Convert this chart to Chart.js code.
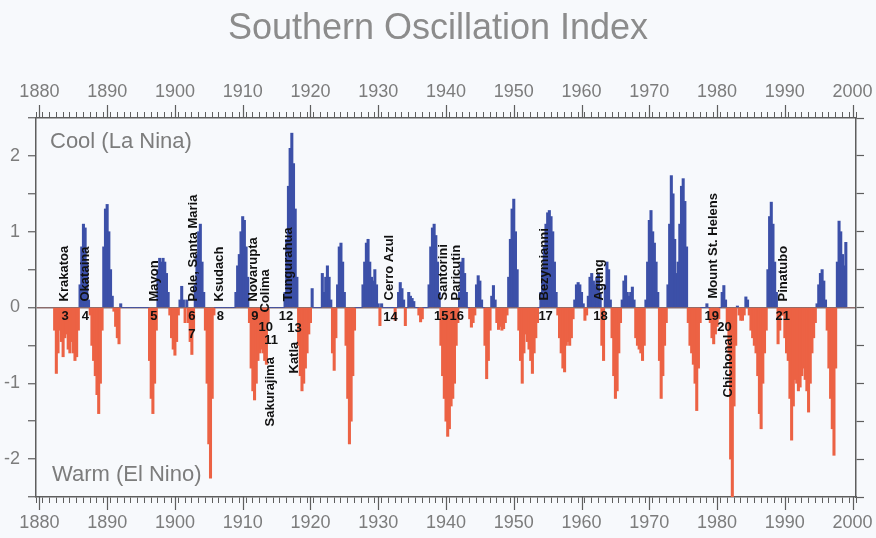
<!DOCTYPE html>
<html>
<head>
<meta charset="utf-8">
<title>Southern Oscillation Index</title>
<script src="https://cdn.jsdelivr.net/npm/chart.js@4.4.1/dist/chart.umd.min.js"></script>
<style>
  html, body { margin: 0; padding: 0; background: #f7f9fc; }
  #wrap { width: 876px; height: 538px; }
</style>
</head>
<body>
<div id="wrap"><canvas id="soi" width="876" height="538"></canvas></div>
<script>
// quarterly SOI values, one array per decade, starting Jan of the decade
const soi1880s = [
  null, null, null, null,   null, null, null, null,
  null, -0.3, -0.87, -0.6,  -0.3, -0.45, -0.65, -0.4,
  -0.35, -0.55, -0.6, -0.45, -0.6, -0.7, -0.65, -0.3,
  0.3, 0.8, 1.1, 1.05,      0.6, 0.1, -0.1, -0.5,
  -0.7, -0.9, -1.15, -1.4,  -1.0, -0.3, 0.8, 1.3
];
const soi1890s = [
  1.36, 1.0, 0.5, 0.15,     -0.05, -0.25, -0.4, -0.48,
  0.05, 0, 0, 0,            0, 0, 0, 0,
  0, 0, 0, 0,               0, 0, 0, 0,
  0, -0.7, -1.2, -1.4,      -1.0, -0.3, 0.5, 0.65,
  0.6, 0.65, 0.6, 0.45,     0.2, -0.1, -0.4, -0.55
];
const soi1900s = [
  -0.63, -0.45, -0.1, 0.1,  0.28, 0.1, -0.2, 0.1,
  -0.2, -0.45, -0.62, -0.3, 0.3, 0.7, 1.0, 1.1,
  0.6, 0.2, -0.3, -1.0,     -1.8, -2.25, -1.2, -0.1,
  0, 0, 0, 0,               0, 0, 0, 0,
  0, 0, 0, 0,               0.2, 0.55, 0.7, 1.0
];
const soi1910s = [
  1.2, 1.15, 0.8, 0.4,      -0.2, -0.8, -1.1, -1.22,
  -1.0, -0.7, -0.6, -0.55,  -0.6, -0.7, -0.75, -0.2,
  0, 0, 0, 0,               0, 0, 0, 0,
  0, 0.2, 0.9, 1.6,         2.1, 2.3, 1.9, 1.3,
  0.4, -0.5, -0.9, -1.1,    -1.0, -0.8, -0.6, -0.35
];
const soi1920s = [
  -0.2, 0.25, 0, 0,         0, 0, 0, 0.45,
  0.2, 0.4, 0.55, 0.4,      0.1, -0.6, -0.83, -0.4,
  0.3, 0.8, 0.85, 0.6,      0.2, -0.5, -1.2, -1.8,
  -1.5, -0.9, -0.3, 0,      0, 0, 0, 0.3,
  0.6, 0.85, 0.9, 0.6,      0.4, 0.35, 0.5, 0.3
];
const soi1930s = [
  0.05, -0.24, 0.05, 0,     0, 0, 0, 0,
  0, 0, -0.17, 0,           0.2, 0.33, 0.25, 0.1,
  -0.24, 0, 0.2, 0.15,      0.12, 0.08, 0, 0,
  -0.1, -0.19, -0.15, 0,    0, 0, 0.3, 0.8,
  1.05, 1.1, 0.95, 0.6,     0.2, -0.5, -0.9, -1.2
];
const soi1940s = [
  -1.5, -1.7, -1.6, -1.3,   -1.2, -1.0, -0.5, -0.2,
  0.2, 0.6, 0.65, 0.45,     0.2, 0, -0.15, -0.26,
  -0.2, -0.1, 0.3, 0.42,    0.35, 0.1, 0, -0.5,
  -0.94, -0.7, -0.3, 0.15,  0.29, 0.1, -0.2, -0.29,
  -0.25, -0.3, -0.28, -0.2, -0.1, 0.4, 0.9, 1.3
];
const soi1950s = [
  1.43, 1.0, 0.5, -0.3,     -0.7, -1.0, -0.6, -0.35,
  -0.45, -0.55, -0.7, -0.87, -0.6, -0.4, -0.2, 0,
  0.2, 0.5, 0.8, 1.1,       1.25, 1.28, 1.2, 1.0,
  0.6, 0.2, -0.1, -0.4,     -0.6, -0.8, -0.85, -0.5,
  -0.45, -0.5, -0.4, -0.15, 0.1, 0.3, 0.33, 0.3
];
const soi1960s = [
  0.2, 0.05, -0.17, -0.1,   0.15, 0.4, 0.45, 0.35,
  0.3, 0.4, 0.45, 0.2,      -0.5, -0.7, 0.3, 0.6,
  0.5, 0.1, -0.4, -0.9,     -1.2, -1.1, -0.6, -0.2,
  0.1, 0.35, 0.42, 0.2,     0.15, 0.2, 0.27, 0.1,
  -0.4, -0.5, -0.55, -0.6,  -0.7, -0.5, 0.1, 0.6
];
const soi1970s = [
  1.15, 1.28, 1.0, 0.85,    0.6, 0.2, -0.7, -1.2,
  -0.9, -0.5, -0.2, 0.3,    1.1, 1.74, 1.5, 0.9,
  0.45, 0.6, 1.1, 1.6,      1.7, 1.4, 0.8, -0.2,
  -0.5, -0.6, -0.75, -1.0,  -1.36, -0.8, -0.2, 0,
  0, 0, 0.05, 0,            -0.2, -0.4, -0.48, -0.35
];
const soi1980s = [
  -0.25, -0.15, 0, 0.2,     0.29, 0.1, -0.2, -0.6,
  -2.0, -2.5, -1.3, -0.5,   0.02, -0.1, -0.17, -0.17,
  -0.1, 0.14, 0.1, -0.1,    -0.3, -0.4, -0.5, -0.6,
  -0.9, -1.4, -1.6, -1.0,   -0.6, -0.3, 0.5, 1.2,
  1.39, 1.1, 0.6, 0.2,      -0.48, -0.3, -0.1, -0.1
];
const soi1990s = [
  -0.4, -0.6, -0.7, -1.2,   -1.75, -1.3, -0.95, -1.0,
  -1.1, -1.05, -0.9, -0.8,  -0.95, -1.1, -1.38, -1.0,
  -0.6, -0.4, -0.2, 0.05,   0.3, 0.45, 0.5, 0.35,
  0.1, -0.3, -0.8, -1.2,    -1.6, -1.95, -0.8, 0.6,
  1.14, 1.0, 0.7, 0.55,     0.86, null, null, null
];
const decadeStarts = [1880, 1890, 1900, 1910, 1920, 1930, 1940, 1950, 1960, 1970, 1980, 1990];
const decadeSeries = [soi1880s, soi1890s, soi1900s, soi1910s, soi1920s, soi1930s,
                      soi1940s, soi1950s, soi1960s, soi1970s, soi1980s, soi1990s];

// volcanic eruptions marked on the chart
const volcanoNames = ['Krakatoa', 'Okataina', 'Mayon', 'Pele, Santa Maria', 'Ksudach', 'Novarupta',
  'Colima', 'Sakurajima', 'Tungurahua', 'Katla', 'Cerro Azul', 'Santorini', 'Paricutin',
  'Bezymianni', 'Agung', 'Mount St. Helens', 'Chichonal', 'Pinatubo'];
const volcanoYears = [1883.66, 1886.73, 1896.98, 1902.68, 1906.63, 1911.61,
  1913.37, 1914.1, 1916.73, 1917.61, 1931.66, 1939.56, 1941.61,
  1954.56, 1962.6, 1979.5, 1981.7, 1989.76];
const eventNumbers = [3, 4, 5, 6, 7, 8, 9, 10, 11, 12, 13, 14, 15, 16, 17, 18, 19, 20, 21];
const eventYears = [1883.8, 1886.8, 1896.9, 1902.5, 1902.5, 1906.7, 1911.8, 1913.4, 1914.2,
  1916.4, 1917.65, 1931.8, 1939.3, 1941.6, 1954.7, 1962.8, 1979.2, 1981.1, 1989.7];

// label placement relative to the zero line (pixels)
const nameDy = [-6, -6, -6, -6, -6, -6, 5, 119, -6, 66, -7, -7, -7, -7, -7, -9, 90, -6];
const numberDy = [9, 9, 9, 9, 27, 9, 9, 20, 33, 9, 21, 10, 9, 9, 9, 9, 9, 20, 9];

const BLUE = 'rgb(60,80,168)';
const RED = 'rgb(236,98,68)';
const AXIS = '#5e5e5e';
const TEXT = '#7c7c7c';
const ZERO = '#8a6c6c';
const BG = '#f7f9fc';
const FONT = '"Liberation Sans", Arial, sans-serif';

const points = [];
decadeSeries.forEach((arr, d) => {
  arr.forEach((v, i) => {
    if (v !== null) points.push({ x: decadeStarts[d] + i / 4, y: v });
  });
});

const yearLabel = v => (v % 10 === 0 ? String(v) : '');

const overlay = {
  id: 'overlay',
  beforeDraw(chart) {
    const c = chart.ctx;
    c.save();
    c.fillStyle = BG;
    c.fillRect(0, 0, chart.width, chart.height);
    c.restore();
  },
  afterDraw(chart) {
    const c = chart.ctx;
    const a = chart.chartArea;
    const xs = chart.scales.x;
    const ys = chart.scales.y;
    c.save();
    // longer ticks on the decades
    c.strokeStyle = AXIS;
    c.lineWidth = 1.2;
    for (let v = 1880; v <= 2000; v += 10) {
      const px = Math.round(xs.getPixelForValue(v)) + 0.5;
      c.beginPath();
      c.moveTo(px, a.top); c.lineTo(px, a.top - 13);
      c.moveTo(px, a.bottom); c.lineTo(px, a.bottom + 13);
      c.stroke();
    }
    c.fillStyle = TEXT;
    c.font = '22px ' + FONT;
    c.textAlign = 'left';
    c.textBaseline = 'middle';
    c.fillText('Cool (La Nina)', a.left + 14, a.top + 24);
    c.fillText('Warm (El Nino)', a.left + 16, a.bottom - 22);

    const y0 = ys.getPixelForValue(0);
    c.fillStyle = '#111';
    c.font = 'bold 13px ' + FONT;
    volcanoNames.forEach((name, i) => {
      c.save();
      c.translate(xs.getPixelForValue(volcanoYears[i]), y0 + nameDy[i]);
      c.rotate(-Math.PI / 2);
      c.textAlign = 'left';
      c.textBaseline = 'middle';
      c.fillText(name, 0, 0);
      c.restore();
    });
    c.textAlign = 'center';
    c.textBaseline = 'middle';
    eventNumbers.forEach((n, i) => {
      c.fillText(String(n), xs.getPixelForValue(eventYears[i]), y0 + numberDy[i]);
    });
    c.restore();
  }
};

const xAxis = (pos, h) => ({
  type: 'linear',
  position: pos,
  min: 1880,
  max: 2000,
  afterFit: s => { s.height = h; s.paddingLeft = 0; s.paddingRight = 0; },
  ticks: {
    stepSize: 1, maxTicksLimit: 500, autoSkip: false, maxRotation: 0,
    color: TEXT, font: { family: FONT, size: 18 }, padding: 9,
    callback: yearLabel
  },
  grid: { drawOnChartArea: false, tickLength: 6, tickColor: AXIS, tickWidth: 1 },
  border: { color: AXIS, width: 1.5 }
});

new Chart(document.getElementById('soi'), {
  type: 'bar',
  data: {
    datasets: [{
      data: points,
      xAxisID: 'x',
      yAxisID: 'y',
      backgroundColor: c => (c.raw && c.raw.y < 0 ? RED : BLUE),
      borderWidth: 0,
      barThickness: 2.4
    }]
  },
  options: {
    responsive: false,
    animation: false,
    devicePixelRatio: 1,
    layout: { padding: 0 },
    plugins: {
      legend: { display: false },
      tooltip: { enabled: false },
      title: {
        display: true,
        text: 'Southern Oscillation Index',
        color: '#8c8c8c',
        font: { family: FONT, size: 36, weight: 'normal' },
        padding: { top: 7, bottom: 0 }
      }
    },
    scales: {
      x: xAxis('bottom', 41),
      xTop: xAxis('top', 118 - 7 - 36 * 1.2),
      y: {
        position: 'left',
        min: -2.5,
        max: 2.5,
        z: 1,
        afterFit: s => { s.width = 36; },
        ticks: {
          stepSize: 0.5, autoSkip: false, color: TEXT, padding: 8,
          font: { family: FONT, size: 18 },
          callback: v => (Number.isInteger(v) && Math.abs(v) < 2.5 ? String(v) : '')
        },
        grid: {
          color: c => (c.tick && c.tick.value === 0 ? ZERO : 'rgba(0,0,0,0)'),
          lineWidth: 1.5,
          tickColor: AXIS, tickLength: 8, tickWidth: 1.2
        },
        border: { color: AXIS, width: 1.5 }
      },
      yR: {
        position: 'right',
        min: -2.5,
        max: 2.5,
        afterFit: s => { s.width = 20; },
        ticks: { stepSize: 0.5, autoSkip: false, callback: () => '', padding: 0 },
        grid: { drawOnChartArea: false, tickColor: AXIS, tickLength: 8, tickWidth: 1.2 },
        border: { color: AXIS, width: 1.5 }
      }
    }
  },
  plugins: [overlay]
});
</script>
</body>
</html>
